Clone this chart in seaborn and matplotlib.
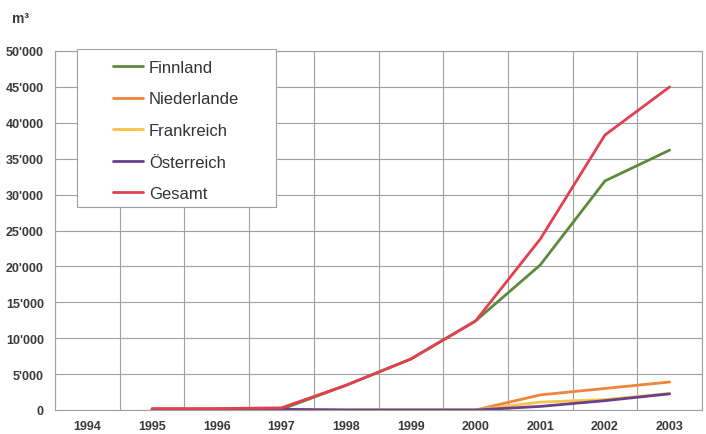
import matplotlib
matplotlib.use("Agg")
import matplotlib.pyplot as plt
import matplotlib.ticker as mticker
from matplotlib.patches import Rectangle
import numpy as np
import pandas as pd
import seaborn as sns

# ---- data ----
years = [1994, 1995, 1996, 1997, 1998, 1999, 2000, 2001, 2002, 2003]
series_names = ["Finnland", "Niederlande", "Frankreich", "Österreich", "Gesamt"]
finnland    = [np.nan, 100, 100, 100, 3450, 7100, 12400, 20200, 31900, 36200]
niederlande = [np.nan, 0, 0, 0, 0, 0, 0, 2100, 3000, 3900]
frankreich  = [np.nan, 0, 0, 0, 0, 0, 0, 1100, 1450, 2300]
oesterreich = [np.nan, 100, 100, 100, 0, 0, 0, 500, 1300, 2250]
gesamt      = [np.nan, 200, 200, 300, 3450, 7100, 12400, 23800, 38300, 45000]
y_ticks = [0, 5000, 10000, 15000, 20000, 25000, 30000, 35000, 40000, 45000, 50000]
unit_label = "m\u00b3"

colors = {
    "Finnland": "#5b8a3c",
    "Niederlande": "#f0843a",
    "Frankreich": "#f6c445",
    "Österreich": "#6b3f8f",
    "Gesamt": "#e2404f",
}

rows = []
for name, vals in zip(series_names, [finnland, niederlande, frankreich, oesterreich, gesamt]):
    for yr, v in zip(years, vals):
        if not np.isnan(v):
            rows.append({"Jahr": yr, "Wert": v, "Serie": name})
df = pd.DataFrame(rows)

sns.set_theme(style="white")
plt.rcParams["font.family"] = ["Liberation Sans", "DejaVu Sans"]

W, H = 706, 435
fig = plt.figure(figsize=(W / 100, H / 100), dpi=100)
ax = fig.add_axes([55 / W, 1 - 411 / H, (702 - 55) / W, (411 - 52) / H])

sns.lineplot(data=df, x="Jahr", y="Wert", hue="Serie", hue_order=series_names,
             palette=colors, linewidth=2.0, ax=ax, legend=False, sort=True,
             errorbar=None)

ax.set_xlim(1993.5, 2003.5)
ax.set_ylim(0, 50000)
ax.set_xticks(years)
ax.set_xticklabels([str(y) for y in years])
ax.set_xticks([y + 0.5 for y in [1993] + years], minor=True)
ax.set_yticks(y_ticks)
ax.yaxis.set_major_formatter(mticker.FuncFormatter(
    lambda v, p: "0" if v == 0 else f"{int(v):,}".replace(",", "'")))
ax.set_xlabel("")
ax.set_ylabel("")

ax.grid(False)
ax.yaxis.grid(True, which="major", color="#a0a0a0", linewidth=0.8)
ax.xaxis.grid(True, which="minor", color="#a0a0a0", linewidth=0.8)
ax.set_axisbelow(True)
for s in ax.spines.values():
    s.set_color("#a0a0a0")
    s.set_linewidth(0.8)

ax.tick_params(axis="x", which="both", length=0, pad=7, labelsize=9, labelcolor="#3a3a3a")
ax.tick_params(axis="y", which="major", length=3, color="#a0a0a0", pad=5,
               labelsize=9, labelcolor="#3a3a3a")
for lab in ax.get_xticklabels() + ax.get_yticklabels():
    lab.set_fontweight("bold")

fig.text(12 / W, 1 - 19 / H, unit_label, fontsize=10, fontweight="bold",
         color="#3a3a3a", va="center", ha="left")

# legend box
fig.patches.append(Rectangle((77 / W, 1 - 208 / H), (276 - 77) / W, (208 - 50) / H,
                             transform=fig.transFigure, facecolor="white",
                             edgecolor="#a0a0a0", linewidth=0.8, zorder=5))
handles = [plt.Line2D([], [], color=colors[n], linewidth=2.0) for n in series_names]
leg = fig.legend(handles, series_names, loc="upper left",
                 bbox_to_anchor=(113 / W, 1 - 61 / H), bbox_transform=fig.transFigure,
                 frameon=False, fontsize=12, handlelength=1.8, handletextpad=0.35,
                 labelspacing=0.99, borderpad=0, borderaxespad=0)
leg.set_zorder(6)
for t in leg.get_texts():
    t.set_color("#333333")

fig.savefig("out.png", dpi=100)
